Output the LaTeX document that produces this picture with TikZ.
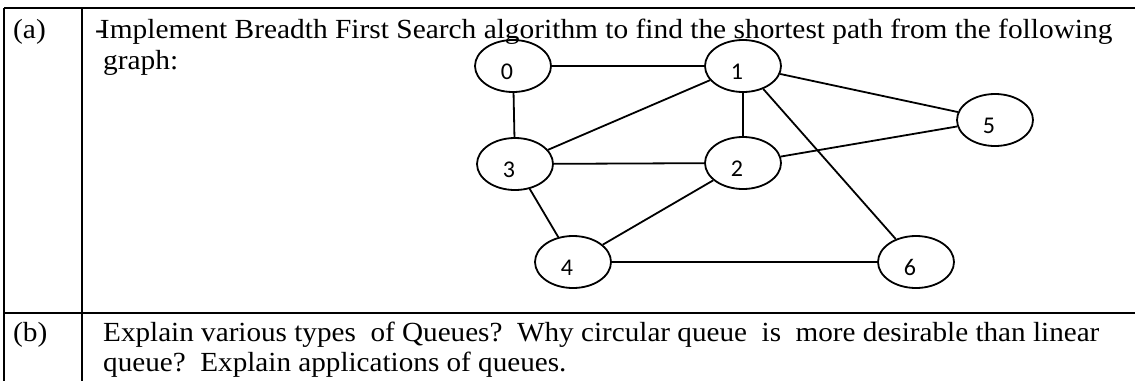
\documentclass[tikz,border=0pt]{standalone}
\usepackage{fontspec}
\usepackage{graphicx}
\setmainfont{Liberation Serif}
\newfontfamily\vertexfont{Carlito}
\usetikzlibrary{shapes.geometric}

% question text, slightly narrowed for the second row
\newcommand{\qline}[2][1]{\scalebox{#1}[0.94]{#2}}

\tikzset{
    vertex/.style={ellipse, draw=black, line width=1.8pt, minimum width=76pt, minimum height=52pt,
        inner sep=0pt, font=\vertexfont\fontsize{24}{24}\selectfont,
        text height=27pt, text depth=0pt, execute at begin node=\kern-12pt},
    link/.style={line width=1.8pt},
    tablerule/.style={line width=2.8pt},
    qtext/.style={anchor=base west, inner sep=0pt, font=\fontsize{29.4}{30}\selectfont}
}

\begin{document}
\begin{tikzpicture}[x=1pt, y=-1pt]
                \useasboundingbox (0,0) rectangle (1135,381);

                % table
                \draw[tablerule] (4,8) -- (1135,8);
                \draw[tablerule] (4,313) -- (1135,313);
                \draw[tablerule] (4,8) -- (4,381);
                \draw[tablerule] (82,8) -- (82,381);

                % question texts
                \node [qtext] (qa) at (13,38) {\qline{(a)}};
                \node [qtext] (qaone) at (95,38) {\qline{-\kern-5pt Implement Breadth First Search algorithm to find the shortest path from the following}};
                \node [qtext] (qatwo) at (103,69) {\qline{graph:}};
                \node [qtext] (qb) at (13,341) {\qline{(b)}};
                \node [qtext] (qbone) at (103,341) {\qline[0.992]{Explain various types\ \ of Queues?\ \ Why circular queue\ \ is\ \ more desirable than linear}};
                \node [qtext] (qbtwo) at (103,371) {\qline[0.992]{queue?\ \ Explain applications of queues.}};

                % graph
                \node [vertex] (V0) at (513,66) {0};
                \node [vertex] (V1) at (743,66) {1};
                \node [vertex] (V3) at (515,164) {3};
                \node [vertex] (V2) at (743,163) {2};
                \node [vertex] (V5) at (995,120) {5};
                \node [vertex] (V4) at (573,262) {4};
                \node [vertex] (V6) at (916,262) {6};

                \draw[link] (V0) -- (V1);
                \draw[link] (V0) -- (V3);
                \draw[link] (V1) -- (V3);
                \draw[link] (V1) -- (V2);
                \draw[link] (V1) -- (V5);
                \draw[link] (V1) -- (V6);
                \draw[link] (V3) -- (V2);
                \draw[link] (V2) -- (V5);
                \draw[link] (V2) -- (V4);
                \draw[link] (V3) -- (V4);
                \draw[link] (V4) -- (V6);
            \end{tikzpicture}
\end{document}
